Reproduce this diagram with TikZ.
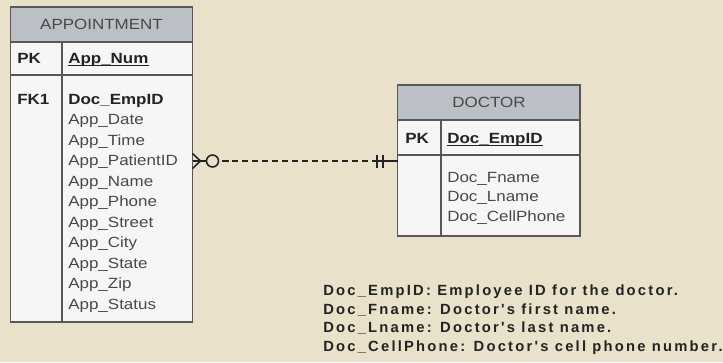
\documentclass[tikz,border=0pt]{standalone}
\usepackage{fontspec}
\setmainfont{Liberation Sans}[FakeStretch=1.15]
\newfontfamily\notefont{Liberation Sans}[LetterSpace=15]
\usetikzlibrary{positioning}

\definecolor{sfondo}{RGB}{233,225,201}
\definecolor{intestazione}{RGB}{186,192,198}
\definecolor{corpo}{RGB}{246,246,246}
\definecolor{bordo}{RGB}{88,88,88}
\definecolor{testo}{RGB}{72,72,72}
\definecolor{scuro}{RGB}{35,35,35}

\begin{document}
\begin{tikzpicture}[x=0.025cm, y=-0.025cm,
    font=\fontsize{10.5}{12}\selectfont,
    cornice/.style={draw=bordo, line width=1.4pt},
    titolo/.style={anchor=base, inner sep=0pt, text=testo},
    campo/.style={anchor=base west, inner sep=0pt, text=testo},
    chiave/.style={anchor=base west, inner sep=0pt, font=\fontsize{10.5}{12}\selectfont\bfseries, text=scuro},
    nota/.style={anchor=base west, inner sep=0pt, font=\notefont\fontsize{10.5}{12}\selectfont\bfseries, text=scuro},
    linea/.style={draw=scuro, line width=1.1pt},
    sottolinea/.style={draw=scuro, line width=0.8pt}]

    % Sfondo e dimensioni del disegno
    \useasboundingbox (0,0) rectangle (723,362);
    \fill[sfondo] (0,0) rectangle (723,362);

    % Tabella APPOINTMENT
    \filldraw[cornice, fill=corpo] (10.5,7) rectangle (192.5,322);
    \filldraw[cornice, fill=intestazione] (10.5,7) rectangle (192.5,42);
    \draw[cornice] (10.5,75) -- (192.5,75);
    \draw[cornice] (62,42) -- (62,322);

    \node[titolo] (apptitolo) at (101.5,29) {APPOINTMENT};
    \node[chiave] (apppk) at (17,63) {PK};
    \node[chiave] (appnum) at (68,63) {App\_Num};
    \draw[sottolinea] ([yshift=-1.6pt]appnum.base west) -- ([yshift=-1.6pt]appnum.base east);

    % Campi della tabella APPOINTMENT
    \node[chiave] (appfk) at (17,104) {FK1};
    \node[chiave] (appdoc) at (68,104) {Doc\_EmpID};
    \node[campo] (appdata) at (68,124.5) {App\_Date};
    \node[campo] (appora) at (68,145) {App\_Time};
    \node[campo] (apppaziente) at (68,165.5) {App\_PatientID};
    \node[campo] (appnome) at (68,186) {App\_Name};
    \node[campo] (apptelefono) at (68,206.5) {App\_Phone};
    \node[campo] (appvia) at (68,227) {App\_Street};
    \node[campo] (appcitta) at (68,247.5) {App\_City};
    \node[campo] (appstato) at (68,268) {App\_State};
    \node[campo] (appcap) at (68,288.5) {App\_Zip};
    \node[campo] (appstatus) at (68,309) {App\_Status};

    % Tabella DOCTOR
    \filldraw[cornice, fill=corpo] (397.5,85) rectangle (580,236);
    \filldraw[cornice, fill=intestazione] (397.5,85) rectangle (580,120);
    \draw[cornice] (397.5,155) -- (580,155);
    \draw[cornice] (441,120) -- (441,236);

    \node[titolo] (doctitolo) at (489,107) {DOCTOR};
    \node[chiave] (docpk) at (405,143) {PK};
    \node[chiave] (docid) at (447,143) {Doc\_EmpID};
    \draw[sottolinea] ([yshift=-1.6pt]docid.base west) -- ([yshift=-1.6pt]docid.base east);

    \node[campo] (docnome) at (447,182) {Doc\_Fname};
    \node[campo] (doccognome) at (447,201.5) {Doc\_Lname};
    \node[campo] (doccell) at (447,221) {Doc\_CellPhone};

    % Relazione molti (zero o piu) a uno
    \coordinate (appdestra) at (192.5,161);
    \coordinate (docsinistra) at (397.5,161);
    \draw[linea, dash pattern=on 4.3pt off 2.8pt] (appdestra) -- (docsinistra);
    \draw[linea] (appdestra) -- ++(14,0);
    \draw[linea, fill=sfondo] (appdestra) ++(20,0) circle[radius=6];
    \draw[linea] (appdestra) ++(0,-7.5) -- ++(8,7.5) -- ++(-8,7.5);
    \draw[linea] (docsinistra) -- ++(-21,0);
    \draw[linea] (docsinistra) ++(-14.5,-6.5) -- ++(0,13);
    \draw[linea] (docsinistra) ++(-20.5,-6.5) -- ++(0,13);

    % Note sugli attributi
    \node[nota] (nota1) at (323,295.5) {Doc\_EmpID: Employee ID for the doctor.};
    \node[nota] (nota2) at (323,314) {Doc\_Fname: Doctor's first name.};
    \node[nota] (nota3) at (323,332.5) {Doc\_Lname: Doctor's last name.};
    \node[nota] (nota4) at (323,351) {Doc\_CellPhone: Doctor's cell phone number.};

\end{tikzpicture}
\end{document}
